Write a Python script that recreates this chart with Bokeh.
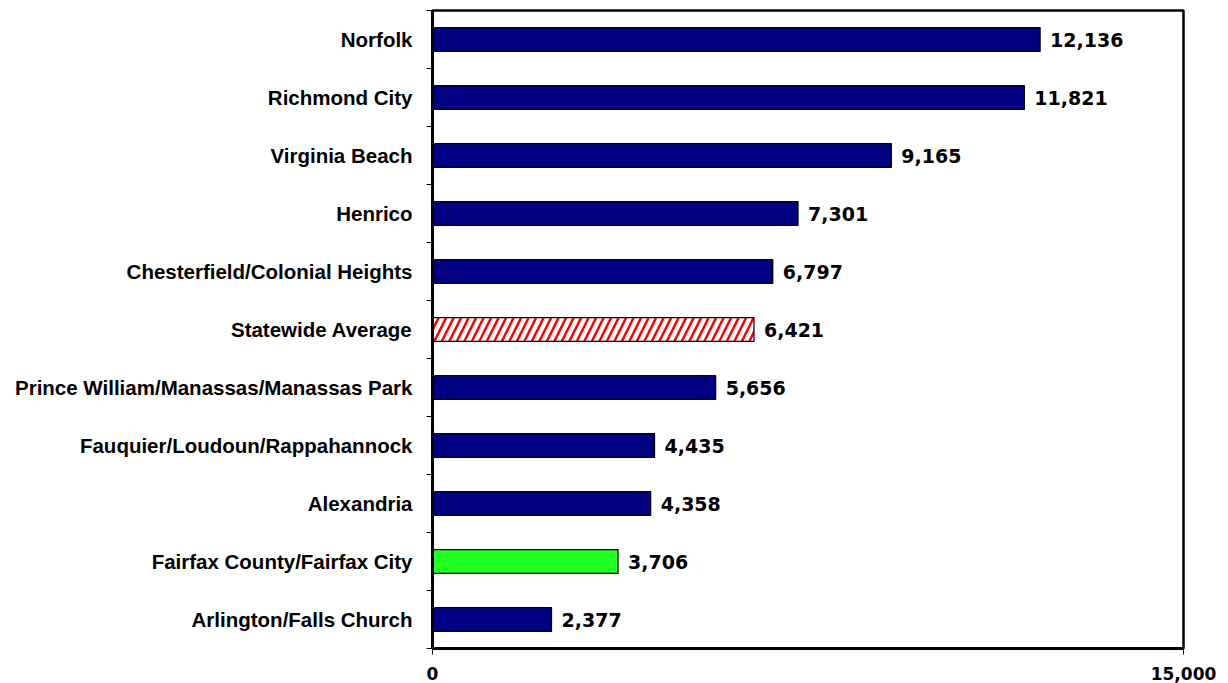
from bokeh.plotting import figure
from bokeh.models import ColumnDataSource, FixedTicker, Range1d
from bokeh.core.properties import value
from bokeh.embed import file_html
from bokeh.resources import INLINE

categories = ["Arlington/Falls Church", "Fairfax County/Fairfax City", "Alexandria",
              "Fauquier/Loudoun/Rappahannock", "Prince William/Manassas/Manassas Park",
              "Statewide Average", "Chesterfield/Colonial Heights", "Henrico",
              "Virginia Beach", "Richmond City", "Norfolk"]
values = [2377, 3706, 4358, 4435, 5656, 6421, 6797, 7301, 9165, 11821, 12136]
x_ticks = [0, 15000]

n = len(categories)
ypos = [i + 0.5 for i in range(n)]
fills = []
hatches = []
for c in categories:
    if c == "Statewide Average":
        fills.append("white"); hatches.append("/")
    elif c == "Fairfax County/Fairfax City":
        fills.append("#22FF22"); hatches.append(" ")
    else:
        fills.append("#000080"); hatches.append(" ")

src = ColumnDataSource(dict(y=ypos, v=values, fill=fills, hatch=hatches,
                            lab=[f"{v:,}" for v in values]))

p = figure(width=1220, height=683, output_backend="svg", toolbar_location=None,
           x_range=Range1d(0, 15000), y_range=Range1d(0, n),
           min_border_left=432, min_border_right=37, min_border_top=10, min_border_bottom=35)
p.grid.visible = False
p.outline_line_color = "black"
p.outline_line_width = 2.5
p.background_fill_color = "white"
p.border_fill_color = "white"

p.hbar(y="y", right="v", left=0, height=0.41, source=src, fill_color="fill",
       line_color="black", line_width=1.2, hatch_pattern="hatch", hatch_color="red",
       hatch_scale=15, hatch_weight=2.5)
p.text(x="v", y="y", text="lab", source=src, x_offset=10, text_baseline="middle",
       text_align="left", text_font=value("DejaVu Sans"), text_font_style="bold",
       text_font_size="19px", text_color="black")

ya = p.yaxis[0]
ya.ticker = FixedTicker(ticks=ypos, minor_ticks=list(range(n + 1)))
ya.major_label_overrides = {y: c for y, c in zip(ypos, categories)}
ya.major_tick_out = 0
ya.major_tick_in = 0
ya.minor_tick_out = 6
ya.minor_tick_in = 0
ya.minor_tick_line_color = "black"
ya.minor_tick_line_width = 1
ya.axis_line_width = 3
ya.axis_line_color = "black"
ya.major_label_standoff = 14
ya.major_label_text_font = "Liberation Sans"
ya.major_label_text_font_style = "bold"
ya.major_label_text_font_size = "20.5px"
ya.major_label_text_color = "black"

xa = p.xaxis[0]
xa.ticker = FixedTicker(ticks=x_ticks, minor_ticks=[])
xa.major_label_overrides = {0: "0", 15000: "15,000"}
xa.major_tick_out = 6
xa.major_tick_in = 0
xa.major_tick_line_color = "black"
xa.axis_line_width = 3
xa.axis_line_color = "black"
xa.major_label_standoff = 12
xa.major_label_text_font = "DejaVu Sans"
xa.major_label_text_font_style = "bold"
xa.major_label_text_font_size = "17px"
xa.major_label_text_color = "black"

open("out.html", "w").write(file_html(p, INLINE))
